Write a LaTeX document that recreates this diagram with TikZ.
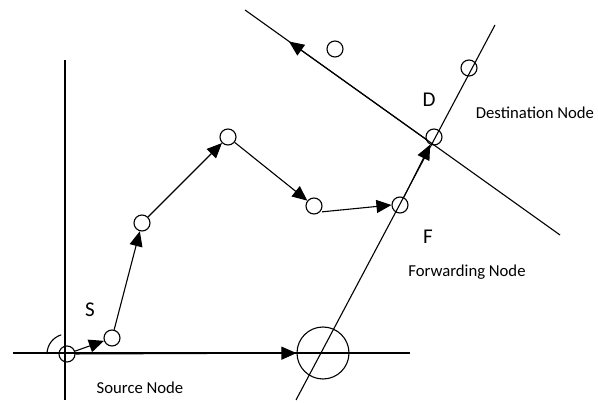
\documentclass[tikz,border=0pt]{standalone}
\usepackage{fontspec}
\setmainfont{Carlito}
\usetikzlibrary{arrows.meta}
\begin{document}
\begin{tikzpicture}[x=1pt,y=-1pt,
  every path/.style={line width=1.1pt},
  nd/.style={circle,draw,line width=1.1pt,minimum size=16pt,inner sep=0pt},
  big/.style={circle,draw,line width=1.1pt,minimum size=52pt,inner sep=0pt},
  arr/.style={-{Triangle[length=15pt,width=13pt]}},
  lbl/.style={font=\fontsize{16.7}{20}\selectfont,inner sep=0pt},
  biglbl/.style={font=\fontsize{21}{24}\selectfont,inner sep=0pt}]
\useasboundingbox (0,0) rectangle (598,403);
% axes
\coordinate (vt) at (65,60);
\coordinate (vb) at (65,400);
\coordinate (hl) at (13,353);
\coordinate (hr) at (410,353);
\draw (vt) -- (vb);
\draw (hl) -- (hr);
% diagonal line through F and D
\coordinate (dgb) at (296,400);
\coordinate (dgt) at (495,25);
\draw (dgb) -- (dgt);
% cross line through D
\coordinate (cl) at (245,10);
\coordinate (cr) at (560,235);
\coordinate (ct) at (289,41.5);
\coordinate (cx) at (427,140);
\draw (cl) -- (cr);
\draw[arr] (cx) -- (ct);
% nodes
\node[nd] (s) at (67,354) {};
\node[nd] (n2) at (112,338) {};
\node[nd] (n3) at (142,223) {};
\node[nd] (n4) at (228,137) {};
\node[nd] (n5) at (314,206) {};
\node[nd] (f) at (400,205) {};
\node[nd] (d) at (434,137) {};
\node[nd] (u) at (469,68) {};
\node[nd] (w) at (335,49) {};
\node[big] (bg) at (323,353) {};
% arc at source
\draw (47,354) arc[start angle=180,end angle=253,radius=20];
% arrows
\draw[arr] (s) -- (n2);
\draw[arr] (n2) -- (n3);
\draw[arr] (n3) -- (n4);
\draw[arr] (n4) -- (n5);
\draw[arr,shorten <=2pt] (n5.south east) -- (f.west);
\draw[arr] (f) -- (d);
\draw[arr] (s) -- (bg);
% labels
\node[biglbl] (ls) at (90,310) {S};
\node[lbl] (lsrc) at (140,388) {Source Node};
\node[biglbl] (ld) at (429,100) {D};
\node[lbl] (ldst) at (535,113) {Destination Node};
\node[biglbl] (lf) at (428,237) {F};
\node[lbl] (lfwd) at (467,272) {Forwarding Node};
\end{tikzpicture}
\end{document}
